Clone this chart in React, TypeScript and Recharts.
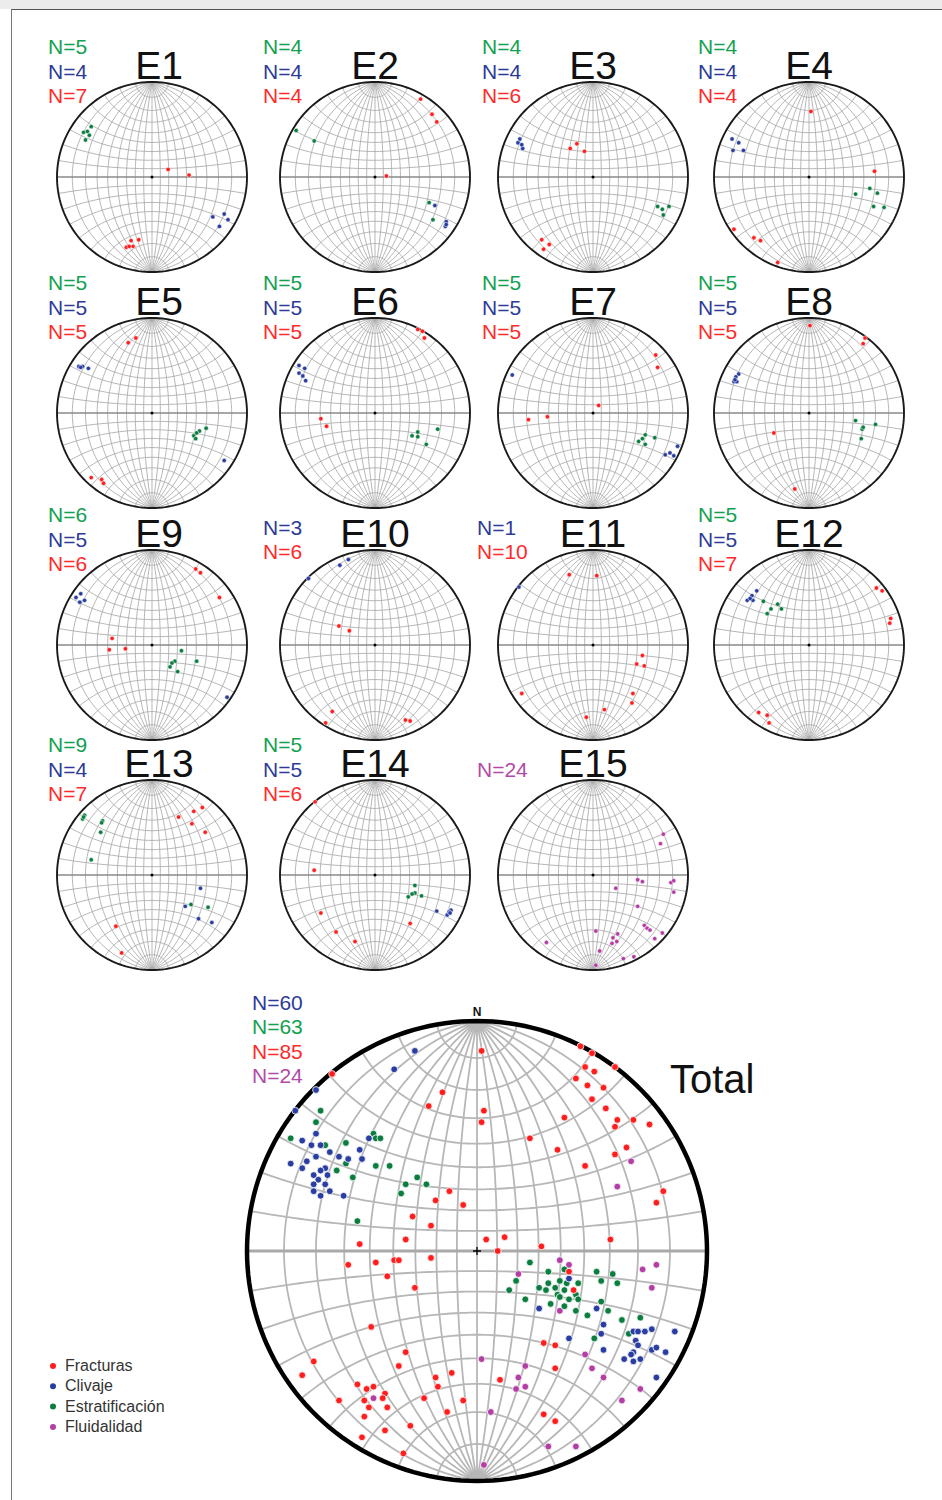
import React from "react";
import { ComposedChart, Line, Scatter, XAxis, YAxis } from "recharts";

type Pt = [number, number];
type Kind = "F" | "C" | "S" | "L";

/* ------------------------------------------------------------------ */
/*  Poles: x to the east, y to the north, unit = rim */
/* ------------------------------------------------------------------ */

const e1S: Pt[] = [[-0.72, 0.47], [-0.64, 0.53], [-0.66, 0.44], [-0.7, 0.39], [-0.68, 0.48]];
const e1C: Pt[] = [[0.64, -0.42], [0.76, -0.39], [0.8, -0.45], [0.71, -0.52]];
const e1F: Pt[] = [[0.17, 0.08], [0.39, 0.02], [-0.27, -0.74], [-0.22, -0.67], [-0.2, -0.73], [-0.14, -0.66], [-0.24, -0.73]];

const e2S: Pt[] = [[-0.83, 0.49], [-0.64, 0.38], [0.57, -0.27], [0.61, -0.45]];
const e2C: Pt[] = [[0.63, -0.3], [0.75, -0.47], [0.74, -0.52], [0.75, -0.5]];
const e2F: Pt[] = [[0.48, 0.82], [0.6, 0.66], [0.65, 0.58], [0.12, 0.01]];

const e3S: Pt[] = [[0.68, -0.31], [0.73, -0.34], [0.8, -0.31], [0.74, -0.4]];
const e3C: Pt[] = [[-0.77, 0.4], [-0.79, 0.36], [-0.74, 0.3], [-0.75, 0.34]];
const e3F: Pt[] = [[-0.24, 0.3], [-0.17, 0.35], [-0.09, 0.27], [-0.54, -0.66], [-0.46, -0.71], [-0.52, -0.76]];

const e4S: Pt[] = [[0.49, -0.18], [0.64, -0.12], [0.72, -0.17], [0.68, -0.31], [0.79, -0.32]];
const e4C: Pt[] = [[-0.81, 0.4], [-0.74, 0.36], [-0.8, 0.28], [-0.69, 0.28]];
const e4F: Pt[] = [[0.02, 0.69], [0.69, 0.06], [-0.79, -0.55], [-0.58, -0.64], [-0.51, -0.67], [-0.33, -0.9]];

const e5S: Pt[] = [[0.44, -0.24], [0.46, -0.27], [0.5, -0.19], [0.57, -0.16], [0.47, -0.21]];
const e5C: Pt[] = [[-0.77, 0.49], [-0.73, 0.49], [-0.67, 0.47], [0.76, -0.5], [-0.75, 0.48]];
const e5F: Pt[] = [[-0.25, 0.74], [-0.17, 0.79], [-0.64, -0.68], [-0.53, -0.7], [-0.51, -0.74]];

const e6S: Pt[] = [[0.39, -0.24], [0.45, -0.2], [0.45, -0.25], [0.66, -0.17], [0.54, -0.33]];
const e6C: Pt[] = [[-0.8, 0.5], [-0.74, 0.47], [-0.8, 0.42], [-0.76, 0.39], [-0.73, 0.34]];
const e6F: Pt[] = [[0.45, 0.88], [0.5, 0.86], [0.52, 0.79], [-0.57, -0.06], [-0.51, -0.14]];

const e7S: Pt[] = [[0.48, -0.3], [0.52, -0.27], [0.55, -0.23], [0.55, -0.33], [0.65, -0.26]];
const e7C: Pt[] = [[-0.85, 0.4], [0.89, -0.35], [0.76, -0.44], [0.85, -0.45], [0.81, -0.42]];
const e7F: Pt[] = [[0.66, 0.61], [0.68, 0.48], [0.06, 0.08], [-0.68, -0.07], [-0.48, -0.04]];

const e8S: Pt[] = [[0.49, -0.08], [0.7, -0.12], [0.56, -0.17], [0.55, -0.27], [0.57, -0.15]];
const e8C: Pt[] = [[-0.74, 0.41], [-0.79, 0.33], [-0.76, 0.33], [-0.77, 0.38], [-0.78, 0.35]];
const e8F: Pt[] = [[0.01, 0.92], [0.59, 0.79], [0.57, 0.73], [-0.37, -0.21], [-0.15, -0.8]];

const e9S: Pt[] = [[0.31, -0.06], [0.24, -0.17], [0.47, -0.17], [0.19, -0.23], [0.27, -0.28], [0.21, -0.19]];
const e9C: Pt[] = [[-0.8, 0.5], [-0.75, 0.54], [-0.71, 0.47], [-0.76, 0.45], [0.79, -0.55]];
const e9F: Pt[] = [[0.46, 0.8], [0.51, 0.76], [0.71, 0.5], [-0.42, 0.07], [-0.45, -0.05], [-0.28, -0.04]];

const e10C: Pt[] = [[-0.7, 0.7], [-0.37, 0.84], [-0.28, 0.9]];
const e10F: Pt[] = [[-0.38, 0.2], [-0.27, 0.15], [-0.45, -0.7], [-0.52, -0.82], [0.32, -0.79], [0.37, -0.8]];

const e11C: Pt[] = [[-0.78, 0.61]];
const e11F: Pt[] = [[-0.25, 0.74], [0.04, 0.73], [0.52, -0.11], [0.46, -0.2], [0.54, -0.22], [-0.75, -0.51], [0.42, -0.51], [0.41, -0.61], [0.12, -0.68], [-0.07, -0.76]];

const e12S: Pt[] = [[-0.48, 0.46], [-0.4, 0.38], [-0.44, 0.33], [-0.33, 0.43], [-0.29, 0.38]];
const e12C: Pt[] = [[-0.65, 0.47], [-0.59, 0.47], [-0.6, 0.52], [-0.55, 0.57], [-0.62, 0.49]];
const e12F: Pt[] = [[0.71, 0.6], [0.77, 0.57], [0.86, 0.28], [0.85, 0.23], [-0.53, -0.71], [-0.44, -0.74], [-0.42, -0.82]];

const e13S: Pt[] = [[-0.71, 0.63], [-0.73, 0.59], [-0.52, 0.57], [-0.54, 0.45], [-0.64, 0.16], [0.41, -0.31], [0.59, -0.34], [-0.72, 0.61], [-0.53, 0.55]];
const e13C: Pt[] = [[0.51, -0.14], [0.35, -0.33], [0.49, -0.46], [0.63, -0.5]];
const e13F: Pt[] = [[0.28, 0.61], [0.44, 0.67], [0.53, 0.71], [0.42, 0.54], [0.56, 0.45], [-0.38, -0.54], [-0.32, -0.82]];

const e14S: Pt[] = [[0.42, -0.11], [0.42, -0.19], [0.35, -0.23], [0.49, -0.22], [0.39, -0.2]];
const e14C: Pt[] = [[0.65, -0.38], [0.76, -0.42], [0.8, -0.37], [0.78, -0.39], [0.79, -0.4]];
const e14F: Pt[] = [[-0.63, 0.77], [-0.64, 0.05], [-0.57, -0.4], [-0.41, -0.6], [-0.21, -0.7], [0.37, -0.51]];

const e15L: Pt[] = [
  [0.74, 0.43], [0.71, 0.33], [0.47, -0.05], [0.52, -0.07], [0.24, -0.14], [0.82, -0.08], [0.85, -0.06], [0.85, -0.18],
  [0.47, -0.33], [0.54, -0.53], [0.57, -0.56], [0.6, -0.58], [0.65, -0.67], [0.73, -0.61], [0.03, -0.59], [0.26, -0.62],
  [0.21, -0.66], [0.25, -0.7], [0.2, -0.72], [0.07, -0.8], [0.32, -0.88], [0.43, -0.86], [0.03, -0.95], [-0.49, -0.71],
];

const totalC: Pt[] = [
  [-0.27, 0.87], [-0.36, 0.79], [-0.7, 0.7], [-0.79, 0.61], [-0.7, 0.51], [-0.76, 0.48], [-0.72, 0.46], [-0.68, 0.46],
  [-0.7, 0.41], [-0.64, 0.43], [-0.6, 0.41], [-0.56, 0.4], [-0.51, 0.44], [-0.47, 0.49], [-0.5, 0.4], [-0.74, 0.39],
  [-0.81, 0.38], [-0.76, 0.36], [-0.66, 0.36], [-0.68, 0.35], [-0.71, 0.33], [-0.65, 0.33], [-0.69, 0.31], [-0.71, 0.29],
  [-0.66, 0.29], [-0.64, 0.26], [-0.71, 0.26], [-0.68, 0.24], [-0.58, 0.24],
  [0.4, -0.12], [0.27, -0.25], [0.52, -0.25], [0.55, -0.32], [0.54, -0.36], [0.4, -0.38], [0.55, -0.43], [0.68, -0.35],
  [0.7, -0.35], [0.73, -0.35], [0.76, -0.34], [0.69, -0.39], [0.7, -0.41], [0.68, -0.44], [0.76, -0.43], [0.78, -0.42],
  [0.82, -0.44], [0.86, -0.35], [0.67, -0.45], [0.64, -0.47], [0.68, -0.48], [0.71, -0.47], [0.78, -0.55],
];
const totalS: Pt[] = [
  [-0.68, 0.61], [-0.7, 0.56], [-0.81, 0.49], [-0.66, 0.46], [-0.57, 0.47], [-0.45, 0.51], [-0.44, 0.49], [-0.42, 0.49],
  [-0.57, 0.38], [-0.61, 0.35], [-0.54, 0.32], [-0.44, 0.37], [-0.38, 0.37], [-0.26, 0.32], [-0.22, 0.29], [-0.31, 0.29],
  [-0.33, 0.25], [-0.52, 0.13],
  [0.23, -0.05], [0.17, -0.13], [0.14, -0.17], [0.21, -0.21], [0.31, -0.09], [0.27, -0.16], [0.31, -0.14], [0.34, -0.16],
  [0.36, -0.13], [0.38, -0.17], [0.39, -0.14], [0.3, -0.17], [0.35, -0.19], [0.36, -0.2], [0.32, -0.23], [0.38, -0.24],
  [0.4, -0.21], [0.43, -0.19], [0.44, -0.14], [0.44, -0.21], [0.43, -0.26], [0.48, -0.28], [0.52, -0.09], [0.54, -0.13],
  [0.59, -0.1], [0.61, -0.14], [0.54, -0.22], [0.57, -0.26], [0.63, -0.3], [0.71, -0.29], [0.66, -0.36], [0.51, -0.38],
  [0.38, -0.08],
];
const totalF: Pt[] = [
  [-0.63, 0.77], [-0.15, 0.69], [-0.21, 0.63], [-0.12, 0.26], [-0.18, 0.22], [-0.06, 0.2], [-0.28, 0.15], [-0.2, 0.11],
  [-0.31, 0.05], [-0.51, 0.03],
  [0.02, 0.87], [0.03, 0.61], [0.02, 0.56], [0.45, 0.89], [0.5, 0.86], [0.47, 0.8], [0.51, 0.78], [0.6, 0.8], [0.43, 0.75],
  [0.48, 0.72], [0.55, 0.71], [0.5, 0.66], [0.56, 0.62], [0.38, 0.58], [0.61, 0.57], [0.68, 0.57], [0.6, 0.54], [0.75, 0.55],
  [0.23, 0.49], [0.35, 0.44], [0.65, 0.45], [0.6, 0.42], [0.47, 0.37], [0.81, 0.26], [0.78, 0.21], [0.04, 0.05], [0.12, 0.06],
  [0.09, 0.0], [0.28, 0.02], [0.58, 0.05],
  [-0.56, -0.06], [-0.44, -0.05], [-0.36, -0.04], [-0.34, -0.04], [-0.2, -0.03], [-0.39, -0.11], [-0.27, -0.16], [-0.46, -0.33],
  [-0.31, -0.44], [-0.71, -0.48], [-0.76, -0.54], [-0.34, -0.5], [-0.52, -0.58], [-0.48, -0.6], [-0.45, -0.59], [-0.4, -0.62],
  [-0.49, -0.65], [-0.41, -0.64], [-0.6, -0.65], [-0.47, -0.68], [-0.39, -0.68], [-0.49, -0.72], [-0.23, -0.64], [-0.18, -0.55],
  [-0.17, -0.59], [-0.11, -0.53], [-0.06, -0.65], [-0.13, -0.7], [-0.29, -0.76], [-0.4, -0.78], [-0.5, -0.81], [-0.32, -0.88],
  [0.4, -0.09], [0.42, -0.17], [0.29, -0.4], [0.34, -0.41], [0.34, -0.51], [0.1, -0.56], [0.29, -0.71], [0.34, -0.74],
];
const totalL: Pt[] = [
  [0.67, 0.39], [0.61, 0.28], [-0.45, -0.64], [0.36, -0.04], [0.4, -0.06], [0.18, -0.1], [0.36, -0.26], [0.72, -0.08],
  [0.78, -0.06], [0.76, -0.16], [0.02, -0.47], [0.21, -0.5], [0.47, -0.45], [0.5, -0.51], [0.18, -0.55], [0.21, -0.59],
  [0.17, -0.6], [0.55, -0.55], [0.71, -0.6], [0.63, -0.65], [0.06, -0.7], [0.31, -0.85], [0.43, -0.85], [0.03, -0.93],
];

// counts printed beside each net, in the order they are printed
const NET_NAMES = ["E1", "E2", "E3", "E4", "E5", "E6", "E7", "E8", "E9", "E10", "E11", "E12", "E13", "E14", "E15"];
const NET_COUNTS: [Kind, number][][] = [
  [["S", 5], ["C", 4], ["F", 7]],
  [["S", 4], ["C", 4], ["F", 4]],
  [["S", 4], ["C", 4], ["F", 6]],
  [["S", 4], ["C", 4], ["F", 4]],
  [["S", 5], ["C", 5], ["F", 5]],
  [["S", 5], ["C", 5], ["F", 5]],
  [["S", 5], ["C", 5], ["F", 5]],
  [["S", 5], ["C", 5], ["F", 5]],
  [["S", 6], ["C", 5], ["F", 6]],
  [["C", 3], ["F", 6]],
  [["C", 1], ["F", 10]],
  [["S", 5], ["C", 5], ["F", 7]],
  [["S", 9], ["C", 4], ["F", 7]],
  [["S", 5], ["C", 5], ["F", 6]],
  [["L", 24]],
];
const NET_POINTS: Partial<Record<Kind, Pt[]>>[] = [
  { F: e1F, C: e1C, S: e1S },
  { F: e2F, C: e2C, S: e2S },
  { F: e3F, C: e3C, S: e3S },
  { F: e4F, C: e4C, S: e4S },
  { F: e5F, C: e5C, S: e5S },
  { F: e6F, C: e6C, S: e6S },
  { F: e7F, C: e7C, S: e7S },
  { F: e8F, C: e8C, S: e8S },
  { F: e9F, C: e9C, S: e9S },
  { F: e10F, C: e10C },
  { F: e11F, C: e11C },
  { F: e12F, C: e12C, S: e12S },
  { F: e13F, C: e13C, S: e13S },
  { F: e14F, C: e14C, S: e14S },
  { L: e15L },
];
const TOTAL_COUNTS: [Kind, number][] = [["C", 60], ["S", 63], ["F", 85], ["L", 24]];
const TOTAL_POINTS: Record<Kind, Pt[]> = { F: totalF, C: totalC, S: totalS, L: totalL };

const LEGEND: [Kind, string][] = [
  ["F", "Fracturas"],
  ["C", "Clivaje"],
  ["S", "Estratificación"],
  ["L", "Fluidalidad"],
];

/* ------------------------------------------------------------------ */
/*  Styling / layout                                                   */
/* ------------------------------------------------------------------ */

const DOT: Record<Kind, string> = { F: "#ff1e1e", C: "#2a3ea2", S: "#0b7d3f", L: "#b33ea6" };
const INK: Record<Kind, string> = { F: "#ff2a2a", C: "#2d3a98", S: "#12a150", L: "#b24aa6" };
const DRAW_ORDER: Kind[] = ["L", "S", "C", "F"];
const FONT = "'Liberation Sans', Arial, Helvetica, sans-serif";

const COL_X = [152, 375, 593, 809];
const ROW_Y = [177, 413, 645, 875];
const TITLE_X = [159, 375, 593, 809];
const LABEL_X = [48, 263, 482, 698];
const LABEL_X_FIX: Record<string, number> = { E11: 477, E15: 477 };
const SMALL_R = 95;
const BIG = { cx: 477, cy: 1251, r: 230 };

/* ------------------------------------------------------------------ */
/*  Wulff net geometry                                                 */
/* ------------------------------------------------------------------ */

const rad = (d: number) => (d * Math.PI) / 180;
function project(lam: number, phi: number) {
  const k = 1 + Math.cos(rad(phi)) * Math.cos(rad(lam));
  return { x: (Math.cos(rad(phi)) * Math.sin(rad(lam))) / k, y: Math.sin(rad(phi)) / k };
}

function buildGrid(step: number) {
  const out: { x: number; y: number | null }[] = [];
  for (let lam = -80; lam <= 80; lam += 10) {
    for (let phi = -90; phi <= 90; phi += step) out.push(project(lam, phi));
    out.push({ x: 0, y: null });
  }
  for (let phi = -80; phi <= 80; phi += 10) {
    if (phi === 0) continue;
    for (let lam = -90; lam <= 90; lam += step) out.push(project(lam, phi));
    out.push({ x: 0, y: null });
  }
  return out;
}

const SMALL_GRID = buildGrid(3);
const BIG_GRID = buildGrid(2);
const EQUATOR = [{ x: -1, y: 0 }, { x: 1, y: 0 }];
const PRIMITIVE = Array.from({ length: 181 }, (_, i) => ({
  x: Math.cos(rad(i * 2)),
  y: Math.sin(rad(i * 2)),
}));
const CENTER = [{ x: 0, y: 0 }];

const toRows = (pts: Pt[]) => pts.map(([x, y]) => ({ x, y }));

function StereoNet({
  radius,
  grid,
  points,
  big = false,
}: {
  radius: number;
  grid: { x: number; y: number | null }[];
  points: Partial<Record<Kind, Pt[]>>;
  big?: boolean;
}) {
  const pad = big ? 6 : 3;
  const size = 2 * (radius + pad);
  const lim = 1 + pad / radius;
  const dotR = big ? 3.4 : 2.2;
  return (
    <ComposedChart width={size} height={size} margin={{ top: 0, right: 0, bottom: 0, left: 0 }}>
      <XAxis type="number" dataKey="x" domain={[-lim, lim]} hide allowDataOverflow />
      <YAxis type="number" dataKey="y" domain={[-lim, lim]} hide allowDataOverflow />
      <Line
        data={grid}
        dataKey="y"
        stroke={big ? "#b7b7b7" : "#a9a9a9"}
        strokeWidth={big ? 1.8 : 0.85}
        dot={false}
        activeDot={false}
        isAnimationActive={false}
      />
      <Line
        data={EQUATOR}
        dataKey="y"
        stroke={big ? "#a9a9a9" : "#8a8a8a"}
        strokeWidth={big ? 3 : 1.4}
        dot={false}
        activeDot={false}
        isAnimationActive={false}
      />
      <Line
        data={PRIMITIVE}
        dataKey="y"
        stroke={big ? "#000" : "#1a1a1a"}
        strokeWidth={big ? 4.5 : 1.9}
        dot={false}
        activeDot={false}
        isAnimationActive={false}
      />
      <Scatter
        data={CENTER}
        isAnimationActive={false}
        shape={(p: any) =>
          big ? (
            <path d={`M${p.cx - 4},${p.cy}H${p.cx + 4}M${p.cx},${p.cy - 4}V${p.cy + 4}`} stroke="#000" strokeWidth={1.3} />
          ) : (
            <circle cx={p.cx} cy={p.cy} r={1.5} fill="#000" />
          )
        }
      />
      {DRAW_ORDER.filter((k) => points[k]).map((k) => (
        <Scatter
          key={k}
          data={toRows(points[k] as Pt[])}
          isAnimationActive={false}
          shape={(p: any) => (
            <circle cx={p.cx} cy={p.cy} r={dotR} fill={DOT[k]} stroke="#fff" strokeWidth={big ? 0.8 : 0.5} />
          )}
        />
      ))}
    </ComposedChart>
  );
}

export default function App() {
  return (
    <div
      style={{
        position: "absolute",
        left: 0,
        top: 0,
        width: 942,
        height: 1500,
        overflow: "hidden",
        background: "#fff",
        fontFamily: FONT,
      }}
    >
      <div style={{ position: "absolute", left: 0, top: 0, width: 942, height: 9, background: "#ececec" }} />
      <div
        style={{
          position: "absolute",
          left: 11,
          top: 9,
          width: 940,
          height: 1500,
          borderTop: "1.5px solid #555",
          borderLeft: "1.5px solid #777",
        }}
      />

      {NET_NAMES.map((name, i) => {
        const cx = COL_X[i % 4];
        const cy = ROW_Y[Math.floor(i / 4)];
        const pad = 3;
        return (
          <div key={name} style={{ position: "absolute", left: cx - SMALL_R - pad, top: cy - SMALL_R - pad }}>
            <StereoNet radius={SMALL_R} grid={SMALL_GRID} points={NET_POINTS[i]} />
          </div>
        );
      })}

      <div style={{ position: "absolute", left: BIG.cx - BIG.r - 6, top: BIG.cy - BIG.r - 6 }}>
        <StereoNet radius={BIG.r} grid={BIG_GRID} points={TOTAL_POINTS} big />
      </div>

      <svg
        width={942}
        height={1500}
        style={{ position: "absolute", left: 0, top: 0, pointerEvents: "none", fontFamily: FONT }}
      >
        {NET_NAMES.map((name, i) => {
          const col = i % 4;
          const top = ROW_Y[Math.floor(i / 4)] - SMALL_R;
          const counts = NET_COUNTS[i];
          const first = top - 3 - (counts.length - 1) * 12.3;
          const lx = LABEL_X_FIX[name] ?? LABEL_X[col];
          return (
            <g key={name}>
              <text x={TITLE_X[col]} y={top - 3} textAnchor="middle" fontSize={39} fill="#111">
                {name}
              </text>
              {counts.map(([k, n], j) => (
                <text key={k} x={lx} y={first + j * 24.5} fontSize={21} fill={INK[k]}>
                  N={n}
                </text>
              ))}
            </g>
          );
        })}

        {TOTAL_COUNTS.map(([k, n], j) => (
          <text key={k} x={252} y={1010 + j * 24.4} fontSize={21} fill={INK[k]}>
            N={n}
          </text>
        ))}
        <text x={BIG.cx} y={1016} textAnchor="middle" fontSize={12} fontWeight="bold" fill="#111">
          N
        </text>
        <text x={670} y={1093} fontSize={40} fill="#111">
          Total
        </text>

        {LEGEND.map(([k, label], j) => (
          <g key={k}>
            <circle cx={53} cy={1366 + j * 20.3} r={3} fill={DOT[k]} />
            <text x={65} y={1371 + j * 20.3} fontSize={16} fill="#333">
              {label}
            </text>
          </g>
        ))}
      </svg>
    </div>
  );
}
